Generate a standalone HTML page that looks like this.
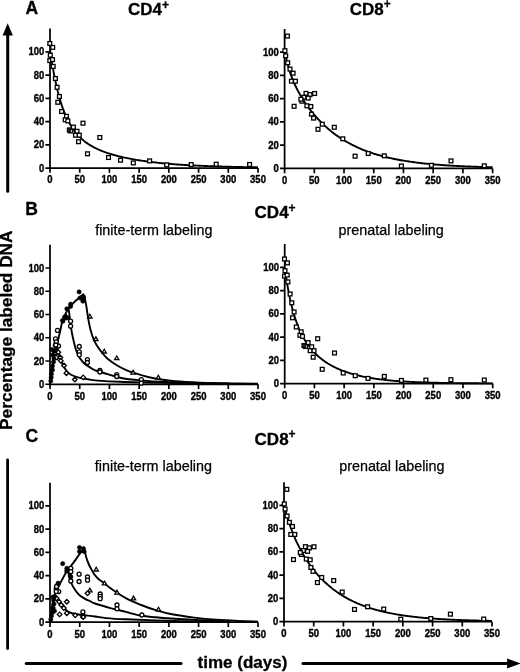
<!DOCTYPE html>
<html><head><meta charset="utf-8"><style>
html,body{margin:0;padding:0;background:#fff;}
svg{display:block;filter:blur(0.3px);}
text{font-family:"Liberation Sans", sans-serif;fill:#000;}
.tk{font-size:10px;font-weight:bold;stroke:#000;stroke-width:0.35px;}
.pl{font-size:17.5px;font-weight:bold;stroke:#000;stroke-width:0.3px;}
.tt{font-size:17px;font-weight:bold;stroke:#000;stroke-width:0.3px;}
.sup{font-size:12px;}
.lb{font-size:14.35px;stroke:#000;stroke-width:0.25px;}
.cv{fill:none;stroke:#000;stroke-width:1.9;stroke-linejoin:round;}
.mk{fill:#fff;stroke:#000;stroke-width:1.3;}
.mkf{fill:#000;stroke:#000;stroke-width:0.6;}
</style></head><body>
<svg width="520" height="672" viewBox="0 0 520 672">
<rect width="520" height="672" fill="#fff"/>
<path d="M50 28.55V168.05H258" fill="none" stroke="#000" stroke-width="1.75" stroke-linejoin="miter"/>
<path d="M45.4 168.05H50M45.4 144.8H50M45.4 121.55H50M45.4 98.3H50M45.4 75.05H50M45.4 51.8H50M50 168.05V172.85M79.72 168.05V172.85M109.43 168.05V172.85M139.15 168.05V172.85M168.86 168.05V172.85M198.58 168.05V172.85M228.29 168.05V172.85M258 168.05V172.85" stroke="#000" stroke-width="1.7" fill="none"/>
<text transform="translate(44.3 171.55) scale(0.95 1)" text-anchor="end" class="tk">0</text>
<text transform="translate(44.3 148.3) scale(0.95 1)" text-anchor="end" class="tk">20</text>
<text transform="translate(44.3 125.05) scale(0.95 1)" text-anchor="end" class="tk">40</text>
<text transform="translate(44.3 101.8) scale(0.95 1)" text-anchor="end" class="tk">60</text>
<text transform="translate(44.3 78.55) scale(0.95 1)" text-anchor="end" class="tk">80</text>
<text transform="translate(44.3 55.3) scale(0.95 1)" text-anchor="end" class="tk">100</text>
<text transform="translate(50 183.35) scale(0.95 1)" text-anchor="middle" class="tk">0</text>
<text transform="translate(79.72 183.35) scale(0.95 1)" text-anchor="middle" class="tk">50</text>
<text transform="translate(109.43 183.35) scale(0.95 1)" text-anchor="middle" class="tk">100</text>
<text transform="translate(139.15 183.35) scale(0.95 1)" text-anchor="middle" class="tk">150</text>
<text transform="translate(168.86 183.35) scale(0.95 1)" text-anchor="middle" class="tk">200</text>
<text transform="translate(198.58 183.35) scale(0.95 1)" text-anchor="middle" class="tk">250</text>
<text transform="translate(228.29 183.35) scale(0.95 1)" text-anchor="middle" class="tk">300</text>
<text transform="translate(258 183.35) scale(0.95 1)" text-anchor="middle" class="tk">350</text>
<path d="M284.6 28.9V168.4H492.61" fill="none" stroke="#000" stroke-width="1.75" stroke-linejoin="miter"/>
<path d="M280 168.4H284.6M280 145.15H284.6M280 121.9H284.6M280 98.65H284.6M280 75.4H284.6M280 52.15H284.6M284.6 168.4V173.2M314.32 168.4V173.2M344.03 168.4V173.2M373.75 168.4V173.2M403.46 168.4V173.2M433.18 168.4V173.2M462.89 168.4V173.2M492.61 168.4V173.2" stroke="#000" stroke-width="1.7" fill="none"/>
<text transform="translate(278.9 171.9) scale(0.95 1)" text-anchor="end" class="tk">0</text>
<text transform="translate(278.9 148.65) scale(0.95 1)" text-anchor="end" class="tk">20</text>
<text transform="translate(278.9 125.4) scale(0.95 1)" text-anchor="end" class="tk">40</text>
<text transform="translate(278.9 102.15) scale(0.95 1)" text-anchor="end" class="tk">60</text>
<text transform="translate(278.9 78.9) scale(0.95 1)" text-anchor="end" class="tk">80</text>
<text transform="translate(278.9 55.65) scale(0.95 1)" text-anchor="end" class="tk">100</text>
<text transform="translate(284.6 183.7) scale(0.95 1)" text-anchor="middle" class="tk">0</text>
<text transform="translate(314.32 183.7) scale(0.95 1)" text-anchor="middle" class="tk">50</text>
<text transform="translate(344.03 183.7) scale(0.95 1)" text-anchor="middle" class="tk">100</text>
<text transform="translate(373.75 183.7) scale(0.95 1)" text-anchor="middle" class="tk">150</text>
<text transform="translate(403.46 183.7) scale(0.95 1)" text-anchor="middle" class="tk">200</text>
<text transform="translate(433.18 183.7) scale(0.95 1)" text-anchor="middle" class="tk">250</text>
<text transform="translate(462.89 183.7) scale(0.95 1)" text-anchor="middle" class="tk">300</text>
<text transform="translate(492.61 183.7) scale(0.95 1)" text-anchor="middle" class="tk">350</text>
<path d="M50 244.75V384.25H258" fill="none" stroke="#000" stroke-width="1.75" stroke-linejoin="miter"/>
<path d="M45.4 384.25H50M45.4 361H50M45.4 337.75H50M45.4 314.5H50M45.4 291.25H50M45.4 268H50M50 384.25V389.05M79.72 384.25V389.05M109.43 384.25V389.05M139.15 384.25V389.05M168.86 384.25V389.05M198.58 384.25V389.05M228.29 384.25V389.05M258 384.25V389.05" stroke="#000" stroke-width="1.7" fill="none"/>
<text transform="translate(44.3 387.75) scale(0.95 1)" text-anchor="end" class="tk">0</text>
<text transform="translate(44.3 364.5) scale(0.95 1)" text-anchor="end" class="tk">20</text>
<text transform="translate(44.3 341.25) scale(0.95 1)" text-anchor="end" class="tk">40</text>
<text transform="translate(44.3 318) scale(0.95 1)" text-anchor="end" class="tk">60</text>
<text transform="translate(44.3 294.75) scale(0.95 1)" text-anchor="end" class="tk">80</text>
<text transform="translate(44.3 271.5) scale(0.95 1)" text-anchor="end" class="tk">100</text>
<text transform="translate(50 399.55) scale(0.95 1)" text-anchor="middle" class="tk">0</text>
<text transform="translate(79.72 399.55) scale(0.95 1)" text-anchor="middle" class="tk">50</text>
<text transform="translate(109.43 399.55) scale(0.95 1)" text-anchor="middle" class="tk">100</text>
<text transform="translate(139.15 399.55) scale(0.95 1)" text-anchor="middle" class="tk">150</text>
<text transform="translate(168.86 399.55) scale(0.95 1)" text-anchor="middle" class="tk">200</text>
<text transform="translate(198.58 399.55) scale(0.95 1)" text-anchor="middle" class="tk">250</text>
<text transform="translate(228.29 399.55) scale(0.95 1)" text-anchor="middle" class="tk">300</text>
<text transform="translate(258 399.55) scale(0.95 1)" text-anchor="middle" class="tk">350</text>
<path d="M284.7 244.05V383.55H492.71" fill="none" stroke="#000" stroke-width="1.75" stroke-linejoin="miter"/>
<path d="M280.1 383.55H284.7M280.1 360.3H284.7M280.1 337.05H284.7M280.1 313.8H284.7M280.1 290.55H284.7M280.1 267.3H284.7M284.7 383.55V388.35M314.41 383.55V388.35M344.13 383.55V388.35M373.85 383.55V388.35M403.56 383.55V388.35M433.27 383.55V388.35M462.99 383.55V388.35M492.71 383.55V388.35" stroke="#000" stroke-width="1.7" fill="none"/>
<text transform="translate(279 387.05) scale(0.95 1)" text-anchor="end" class="tk">0</text>
<text transform="translate(279 363.8) scale(0.95 1)" text-anchor="end" class="tk">20</text>
<text transform="translate(279 340.55) scale(0.95 1)" text-anchor="end" class="tk">40</text>
<text transform="translate(279 317.3) scale(0.95 1)" text-anchor="end" class="tk">60</text>
<text transform="translate(279 294.05) scale(0.95 1)" text-anchor="end" class="tk">80</text>
<text transform="translate(279 270.8) scale(0.95 1)" text-anchor="end" class="tk">100</text>
<text transform="translate(284.7 398.85) scale(0.95 1)" text-anchor="middle" class="tk">0</text>
<text transform="translate(314.41 398.85) scale(0.95 1)" text-anchor="middle" class="tk">50</text>
<text transform="translate(344.13 398.85) scale(0.95 1)" text-anchor="middle" class="tk">100</text>
<text transform="translate(373.85 398.85) scale(0.95 1)" text-anchor="middle" class="tk">150</text>
<text transform="translate(403.56 398.85) scale(0.95 1)" text-anchor="middle" class="tk">200</text>
<text transform="translate(433.27 398.85) scale(0.95 1)" text-anchor="middle" class="tk">250</text>
<text transform="translate(462.99 398.85) scale(0.95 1)" text-anchor="middle" class="tk">300</text>
<text transform="translate(492.71 398.85) scale(0.95 1)" text-anchor="middle" class="tk">350</text>
<path d="M50 482.7V622.2H258" fill="none" stroke="#000" stroke-width="1.75" stroke-linejoin="miter"/>
<path d="M45.4 622.2H50M45.4 598.95H50M45.4 575.7H50M45.4 552.45H50M45.4 529.2H50M45.4 505.95H50M50 622.2V627M79.72 622.2V627M109.43 622.2V627M139.15 622.2V627M168.86 622.2V627M198.58 622.2V627M228.29 622.2V627M258 622.2V627" stroke="#000" stroke-width="1.7" fill="none"/>
<text transform="translate(44.3 625.7) scale(0.95 1)" text-anchor="end" class="tk">0</text>
<text transform="translate(44.3 602.45) scale(0.95 1)" text-anchor="end" class="tk">20</text>
<text transform="translate(44.3 579.2) scale(0.95 1)" text-anchor="end" class="tk">40</text>
<text transform="translate(44.3 555.95) scale(0.95 1)" text-anchor="end" class="tk">60</text>
<text transform="translate(44.3 532.7) scale(0.95 1)" text-anchor="end" class="tk">80</text>
<text transform="translate(44.3 509.45) scale(0.95 1)" text-anchor="end" class="tk">100</text>
<text transform="translate(50 637.5) scale(0.95 1)" text-anchor="middle" class="tk">0</text>
<text transform="translate(79.72 637.5) scale(0.95 1)" text-anchor="middle" class="tk">50</text>
<text transform="translate(109.43 637.5) scale(0.95 1)" text-anchor="middle" class="tk">100</text>
<text transform="translate(139.15 637.5) scale(0.95 1)" text-anchor="middle" class="tk">150</text>
<text transform="translate(168.86 637.5) scale(0.95 1)" text-anchor="middle" class="tk">200</text>
<text transform="translate(198.58 637.5) scale(0.95 1)" text-anchor="middle" class="tk">250</text>
<text transform="translate(228.29 637.5) scale(0.95 1)" text-anchor="middle" class="tk">300</text>
<text transform="translate(258 637.5) scale(0.95 1)" text-anchor="middle" class="tk">350</text>
<path d="M284 482.15V621.65H492" fill="none" stroke="#000" stroke-width="1.75" stroke-linejoin="miter"/>
<path d="M279.4 621.65H284M279.4 598.4H284M279.4 575.15H284M279.4 551.9H284M279.4 528.65H284M279.4 505.4H284M284 621.65V626.45M313.72 621.65V626.45M343.43 621.65V626.45M373.14 621.65V626.45M402.86 621.65V626.45M432.58 621.65V626.45M462.29 621.65V626.45M492 621.65V626.45" stroke="#000" stroke-width="1.7" fill="none"/>
<text transform="translate(278.3 625.15) scale(0.95 1)" text-anchor="end" class="tk">0</text>
<text transform="translate(278.3 601.9) scale(0.95 1)" text-anchor="end" class="tk">20</text>
<text transform="translate(278.3 578.65) scale(0.95 1)" text-anchor="end" class="tk">40</text>
<text transform="translate(278.3 555.4) scale(0.95 1)" text-anchor="end" class="tk">60</text>
<text transform="translate(278.3 532.15) scale(0.95 1)" text-anchor="end" class="tk">80</text>
<text transform="translate(278.3 508.9) scale(0.95 1)" text-anchor="end" class="tk">100</text>
<text transform="translate(284 636.95) scale(0.95 1)" text-anchor="middle" class="tk">0</text>
<text transform="translate(313.72 636.95) scale(0.95 1)" text-anchor="middle" class="tk">50</text>
<text transform="translate(343.43 636.95) scale(0.95 1)" text-anchor="middle" class="tk">100</text>
<text transform="translate(373.14 636.95) scale(0.95 1)" text-anchor="middle" class="tk">150</text>
<text transform="translate(402.86 636.95) scale(0.95 1)" text-anchor="middle" class="tk">200</text>
<text transform="translate(432.58 636.95) scale(0.95 1)" text-anchor="middle" class="tk">250</text>
<text transform="translate(462.29 636.95) scale(0.95 1)" text-anchor="middle" class="tk">300</text>
<text transform="translate(492 636.95) scale(0.95 1)" text-anchor="middle" class="tk">350</text>
<path d="M50 49.48 L51.31 58.38 L52.62 66.43 L53.92 73.72 L55.23 80.33 L56.54 86.32 L57.85 91.76 L59.16 96.71 L60.47 101.22 L61.77 105.32 L63.08 109.07 L64.39 112.49 L65.7 115.63 L67.01 118.5 L68.31 121.14 L69.62 123.56 L70.93 125.8 L72.24 127.86 L73.55 129.76 L74.86 131.53 L76.16 133.16 L77.47 134.68 L78.78 136.1 L80.09 137.42 L81.4 138.65 L82.71 139.81 L84.01 140.89 L85.32 141.91 L86.63 142.86 L87.94 143.77 L89.25 144.62 L90.55 145.43 L91.86 146.19 L93.17 146.92 L94.48 147.61 L95.79 148.26 L97.1 148.89 L98.4 149.49 L99.71 150.06 L101.02 150.61 L102.33 151.13 L103.64 151.63 L104.94 152.12 L106.25 152.58 L107.56 153.03 L108.87 153.46 L110.18 153.87 L111.49 154.27 L112.79 154.66 L114.1 155.03 L115.41 155.39 L116.72 155.74 L118.03 156.08 L119.33 156.4 L120.64 156.72 L121.95 157.03 L123.26 157.32 L124.57 157.61 L125.88 157.89 L127.18 158.16 L128.49 158.43 L129.8 158.68 L131.11 158.93 L132.42 159.17 L133.73 159.41 L135.03 159.63 L136.34 159.86 L137.65 160.07 L138.96 160.28 L140.27 160.48 L141.57 160.68 L142.88 160.88 L144.19 161.06 L145.5 161.25 L146.81 161.42 L148.12 161.6 L149.42 161.76 L150.73 161.93 L152.04 162.09 L153.35 162.24 L154.66 162.39 L155.96 162.54 L157.27 162.68 L158.58 162.82 L159.89 162.96 L161.2 163.09 L162.51 163.22 L163.81 163.34 L165.12 163.47 L166.43 163.59 L167.74 163.7 L169.05 163.81 L170.36 163.92 L171.66 164.03 L172.97 164.13 L174.28 164.24 L175.59 164.33 L176.9 164.43 L178.2 164.52 L179.51 164.62 L180.82 164.7 L182.13 164.79 L183.44 164.88 L184.75 164.96 L186.05 165.04 L187.36 165.12 L188.67 165.19 L189.98 165.27 L191.29 165.34 L192.59 165.41 L193.9 165.48 L195.21 165.54 L196.52 165.61 L197.83 165.67 L199.14 165.73 L200.44 165.79 L201.75 165.85 L203.06 165.91 L204.37 165.96 L205.68 166.02 L206.98 166.07 L208.29 166.12 L209.6 166.17 L210.91 166.22 L212.22 166.27 L213.53 166.31 L214.83 166.36 L216.14 166.4 L217.45 166.44 L218.76 166.49 L220.07 166.53 L221.38 166.57 L222.68 166.6 L223.99 166.64 L225.3 166.68 L226.61 166.71 L227.92 166.75 L229.22 166.78 L230.53 166.81 L231.84 166.85 L233.15 166.88 L234.46 166.91 L235.77 166.94 L237.07 166.97 L238.38 166.99 L239.69 167.02 L241 167.05 L242.31 167.07 L243.61 167.1 L244.92 167.12 L246.23 167.15 L247.54 167.17 L248.85 167.19 L250.16 167.22 L251.46 167.24 L252.77 167.26 L254.08 167.28 L255.39 167.3 L256.7 167.32 L258 167.34" class="cv"/>
<g class="mk"><rect x="47.9" y="41.6" width="3.8" height="3.8"/><rect x="50.8" y="45.5" width="3.8" height="3.8"/><rect x="48.4" y="53.3" width="3.8" height="3.8"/><rect x="47.9" y="58.7" width="3.8" height="3.8"/><rect x="50.6" y="57.7" width="3.8" height="3.8"/><rect x="51.3" y="64.5" width="3.8" height="3.8"/><rect x="53.5" y="76.6" width="3.8" height="3.8"/><rect x="55.2" y="85.4" width="3.8" height="3.8"/><rect x="57.5" y="94.6" width="3.8" height="3.8"/><rect x="55.9" y="100.4" width="3.8" height="3.8"/><rect x="59.7" y="109.6" width="3.8" height="3.8"/><rect x="64.6" y="114.4" width="3.8" height="3.8"/><rect x="63.3" y="117.9" width="3.8" height="3.8"/><rect x="65.9" y="119" width="3.8" height="3.8"/><rect x="67.8" y="128.3" width="3.8" height="3.8"/><rect x="68.9" y="129.1" width="3.8" height="3.8"/><rect x="71.5" y="125.2" width="3.8" height="3.8"/><rect x="75.1" y="129.4" width="3.8" height="3.8"/><rect x="73.6" y="133.3" width="3.8" height="3.8"/><rect x="77.4" y="133.3" width="3.8" height="3.8"/><rect x="81.1" y="121.3" width="3.8" height="3.8"/><rect x="76.6" y="139.8" width="3.8" height="3.8"/><rect x="85.6" y="151.9" width="3.8" height="3.8"/><rect x="97.9" y="135.6" width="3.8" height="3.8"/><rect x="106.6" y="155.6" width="3.8" height="3.8"/><rect x="118.6" y="158.3" width="3.8" height="3.8"/><rect x="131.4" y="161" width="3.8" height="3.8"/><rect x="147.7" y="159" width="3.8" height="3.8"/><rect x="164.8" y="163" width="3.8" height="3.8"/><rect x="189.3" y="162.7" width="3.8" height="3.8"/><rect x="214.3" y="162.3" width="3.8" height="3.8"/><rect x="247.7" y="162.6" width="3.8" height="3.8"/></g>
<rect x="67.2" y="127.9" width="3.6" height="4.2" fill="#222" stroke="#000" stroke-width="0.8"/>
<path d="M284.7 267.3 L286.01 276.5 L287.32 284.66 L288.62 291.91 L289.93 298.39 L291.24 304.18 L292.55 309.38 L293.86 314.07 L295.17 318.31 L296.47 322.15 L297.78 325.66 L299.09 328.86 L300.4 331.79 L301.71 334.49 L303.01 336.98 L304.32 339.29 L305.63 341.43 L306.94 343.43 L308.25 345.29 L309.56 347.03 L310.86 348.67 L312.17 350.21 L313.48 351.65 L314.79 353.02 L316.1 354.32 L317.41 355.54 L318.71 356.71 L320.02 357.81 L321.33 358.87 L322.64 359.87 L323.95 360.82 L325.25 361.73 L326.56 362.6 L327.87 363.44 L329.18 364.23 L330.49 364.99 L331.8 365.72 L333.1 366.42 L334.41 367.09 L335.72 367.73 L337.03 368.34 L338.34 368.93 L339.64 369.5 L340.95 370.04 L342.26 370.56 L343.57 371.07 L344.88 371.55 L346.19 372.01 L347.49 372.45 L348.8 372.88 L350.11 373.29 L351.42 373.68 L352.73 374.06 L354.03 374.43 L355.34 374.78 L356.65 375.11 L357.96 375.43 L359.27 375.75 L360.58 376.04 L361.88 376.33 L363.19 376.61 L364.5 376.87 L365.81 377.13 L367.12 377.37 L368.43 377.61 L369.73 377.84 L371.04 378.06 L372.35 378.27 L373.66 378.47 L374.97 378.66 L376.27 378.85 L377.58 379.03 L378.89 379.2 L380.2 379.37 L381.51 379.53 L382.82 379.68 L384.12 379.83 L385.43 379.97 L386.74 380.11 L388.05 380.24 L389.36 380.37 L390.66 380.49 L391.97 380.61 L393.28 380.72 L394.59 380.83 L395.9 380.93 L397.21 381.03 L398.51 381.13 L399.82 381.22 L401.13 381.31 L402.44 381.39 L403.75 381.48 L405.06 381.56 L406.36 381.63 L407.67 381.71 L408.98 381.78 L410.29 381.84 L411.6 381.91 L412.9 381.97 L414.21 382.03 L415.52 382.09 L416.83 382.15 L418.14 382.2 L419.45 382.25 L420.75 382.3 L422.06 382.35 L423.37 382.39 L424.68 382.44 L425.99 382.48 L427.29 382.52 L428.6 382.56 L429.91 382.6 L431.22 382.64 L432.53 382.67 L433.84 382.7 L435.14 382.74 L436.45 382.77 L437.76 382.8 L439.07 382.83 L440.38 382.85 L441.68 382.88 L442.99 382.91 L444.3 382.93 L445.61 382.95 L446.92 382.98 L448.23 383 L449.53 383.02 L450.84 383.04 L452.15 383.06 L453.46 383.08 L454.77 383.1 L456.08 383.11 L457.38 383.13 L458.69 383.15 L460 383.16 L461.31 383.18 L462.62 383.19 L463.92 383.2 L465.23 383.22 L466.54 383.23 L467.85 383.24 L469.16 383.25 L470.47 383.27 L471.77 383.28 L473.08 383.29 L474.39 383.3 L475.7 383.31 L477.01 383.32 L478.31 383.32 L479.62 383.33 L480.93 383.34 L482.24 383.35 L483.55 383.36 L484.86 383.36 L486.16 383.37 L487.47 383.38 L488.78 383.39 L490.09 383.39 L491.4 383.4 L492.71 383.4" class="cv"/>
<g class="mk"><rect x="282.6" y="257.1" width="3.8" height="3.8"/><rect x="285.5" y="261" width="3.8" height="3.8"/><rect x="283.1" y="268.8" width="3.8" height="3.8"/><rect x="282.6" y="274.2" width="3.8" height="3.8"/><rect x="285.3" y="273.2" width="3.8" height="3.8"/><rect x="286" y="280" width="3.8" height="3.8"/><rect x="288.2" y="292.1" width="3.8" height="3.8"/><rect x="289.9" y="300.9" width="3.8" height="3.8"/><rect x="292.2" y="310.1" width="3.8" height="3.8"/><rect x="290.6" y="315.9" width="3.8" height="3.8"/><rect x="294.4" y="325.1" width="3.8" height="3.8"/><rect x="299.3" y="329.9" width="3.8" height="3.8"/><rect x="298" y="333.4" width="3.8" height="3.8"/><rect x="300.6" y="334.5" width="3.8" height="3.8"/><rect x="302.5" y="343.8" width="3.8" height="3.8"/><rect x="303.6" y="344.6" width="3.8" height="3.8"/><rect x="306.2" y="340.7" width="3.8" height="3.8"/><rect x="309.8" y="344.9" width="3.8" height="3.8"/><rect x="308.3" y="348.8" width="3.8" height="3.8"/><rect x="312.1" y="348.8" width="3.8" height="3.8"/><rect x="315.8" y="336.8" width="3.8" height="3.8"/><rect x="311.3" y="355.3" width="3.8" height="3.8"/><rect x="320.3" y="367.4" width="3.8" height="3.8"/><rect x="332.6" y="351.1" width="3.8" height="3.8"/><rect x="341.3" y="371.1" width="3.8" height="3.8"/><rect x="353.3" y="373.8" width="3.8" height="3.8"/><rect x="366.1" y="376.5" width="3.8" height="3.8"/><rect x="382.4" y="374.5" width="3.8" height="3.8"/><rect x="399.5" y="378.5" width="3.8" height="3.8"/><rect x="424" y="378.2" width="3.8" height="3.8"/><rect x="449" y="377.8" width="3.8" height="3.8"/><rect x="482.4" y="378.1" width="3.8" height="3.8"/></g>
<rect x="301.9" y="343.4" width="3.6" height="4.2" fill="#222" stroke="#000" stroke-width="0.8"/>
<path d="M284.6 50.99 L285.91 57.2 L287.22 62.61 L288.52 67.37 L289.83 71.61 L291.14 75.43 L292.45 78.9 L293.76 82.08 L295.07 85.03 L296.37 87.78 L297.68 90.37 L298.99 92.8 L300.3 95.12 L301.61 97.33 L302.91 99.44 L304.22 101.46 L305.53 103.41 L306.84 105.28 L308.15 107.09 L309.46 108.84 L310.76 110.53 L312.07 112.17 L313.38 113.76 L314.69 115.3 L316 116.79 L317.31 118.24 L318.61 119.65 L319.92 121.01 L321.23 122.34 L322.54 123.63 L323.85 124.88 L325.15 126.1 L326.46 127.28 L327.77 128.43 L329.08 129.54 L330.39 130.63 L331.7 131.68 L333 132.71 L334.31 133.71 L335.62 134.68 L336.93 135.62 L338.24 136.53 L339.54 137.42 L340.85 138.29 L342.16 139.13 L343.47 139.94 L344.78 140.74 L346.09 141.51 L347.39 142.26 L348.7 142.99 L350.01 143.7 L351.32 144.39 L352.63 145.06 L353.94 145.71 L355.24 146.34 L356.55 146.96 L357.86 147.56 L359.17 148.14 L360.48 148.71 L361.78 149.26 L363.09 149.79 L364.4 150.31 L365.71 150.81 L367.02 151.3 L368.33 151.78 L369.63 152.25 L370.94 152.7 L372.25 153.13 L373.56 153.56 L374.87 153.98 L376.17 154.38 L377.48 154.77 L378.79 155.15 L380.1 155.52 L381.41 155.88 L382.72 156.23 L384.02 156.57 L385.33 156.9 L386.64 157.22 L387.95 157.53 L389.26 157.83 L390.56 158.13 L391.87 158.42 L393.18 158.7 L394.49 158.97 L395.8 159.23 L397.11 159.49 L398.41 159.73 L399.72 159.98 L401.03 160.21 L402.34 160.44 L403.65 160.66 L404.96 160.88 L406.26 161.09 L407.57 161.29 L408.88 161.49 L410.19 161.68 L411.5 161.87 L412.8 162.05 L414.11 162.23 L415.42 162.4 L416.73 162.57 L418.04 162.73 L419.35 162.89 L420.65 163.04 L421.96 163.19 L423.27 163.34 L424.58 163.48 L425.89 163.62 L427.19 163.75 L428.5 163.88 L429.81 164.01 L431.12 164.13 L432.43 164.25 L433.74 164.36 L435.04 164.48 L436.35 164.59 L437.66 164.69 L438.97 164.8 L440.28 164.9 L441.58 165 L442.89 165.09 L444.2 165.18 L445.51 165.27 L446.82 165.36 L448.13 165.44 L449.43 165.53 L450.74 165.61 L452.05 165.69 L453.36 165.76 L454.67 165.83 L455.98 165.91 L457.28 165.98 L458.59 166.04 L459.9 166.11 L461.21 166.17 L462.52 166.24 L463.82 166.3 L465.13 166.35 L466.44 166.41 L467.75 166.47 L469.06 166.52 L470.37 166.57 L471.67 166.62 L472.98 166.67 L474.29 166.72 L475.6 166.77 L476.91 166.81 L478.21 166.86 L479.52 166.9 L480.83 166.94 L482.14 166.98 L483.45 167.02 L484.76 167.06 L486.06 167.1 L487.37 167.14 L488.68 167.17 L489.99 167.21 L491.3 167.24 L492.61 167.27" class="cv"/>
<g class="mk"><rect x="285.5" y="34.2" width="3.8" height="3.8"/><rect x="283" y="48.8" width="3.8" height="3.8"/><rect x="283.8" y="53.9" width="3.8" height="3.8"/><rect x="285.8" y="60.9" width="3.8" height="3.8"/><rect x="288.1" y="67.2" width="3.8" height="3.8"/><rect x="291.2" y="71.3" width="3.8" height="3.8"/><rect x="289.5" y="79.3" width="3.8" height="3.8"/><rect x="293.5" y="79.3" width="3.8" height="3.8"/><rect x="304.1" y="91.5" width="3.8" height="3.8"/><rect x="308.1" y="92.7" width="3.8" height="3.8"/><rect x="312.7" y="91.6" width="3.8" height="3.8"/><rect x="302" y="95.4" width="3.8" height="3.8"/><rect x="306.3" y="96.2" width="3.8" height="3.8"/><rect x="300" y="99.3" width="3.8" height="3.8"/><rect x="299" y="97.4" width="3.8" height="3.8"/><rect x="292.2" y="104.4" width="3.8" height="3.8"/><rect x="305" y="103.9" width="3.8" height="3.8"/><rect x="308.9" y="104.6" width="3.8" height="3.8"/><rect x="309.6" y="112.3" width="3.8" height="3.8"/><rect x="311.7" y="116.2" width="3.8" height="3.8"/><rect x="320.4" y="122.3" width="3.8" height="3.8"/><rect x="316.1" y="127.4" width="3.8" height="3.8"/><rect x="332.4" y="125.4" width="3.8" height="3.8"/><rect x="340.9" y="136.9" width="3.8" height="3.8"/><rect x="353.2" y="154.3" width="3.8" height="3.8"/><rect x="366.3" y="151.6" width="3.8" height="3.8"/><rect x="382.4" y="153.9" width="3.8" height="3.8"/><rect x="399.5" y="164.1" width="3.8" height="3.8"/><rect x="429.5" y="163.4" width="3.8" height="3.8"/><rect x="449.1" y="159" width="3.8" height="3.8"/><rect x="482.4" y="163.9" width="3.8" height="3.8"/></g>
<path d="M284 505.4 L285.31 510.33 L286.62 514.92 L287.92 519.2 L289.23 523.21 L290.54 526.98 L291.85 530.52 L293.16 533.87 L294.47 537.03 L295.77 540.03 L297.08 542.88 L298.39 545.59 L299.7 548.18 L301.01 550.65 L302.31 553.01 L303.62 555.27 L304.93 557.44 L306.24 559.52 L307.55 561.52 L308.86 563.44 L310.16 565.3 L311.47 567.08 L312.78 568.8 L314.09 570.46 L315.4 572.06 L316.71 573.6 L318.01 575.1 L319.32 576.54 L320.63 577.93 L321.94 579.28 L323.25 580.59 L324.55 581.85 L325.86 583.07 L327.17 584.25 L328.48 585.4 L329.79 586.51 L331.1 587.58 L332.4 588.62 L333.71 589.63 L335.02 590.61 L336.33 591.55 L337.64 592.47 L338.94 593.36 L340.25 594.22 L341.56 595.05 L342.87 595.86 L344.18 596.65 L345.49 597.41 L346.79 598.14 L348.1 598.86 L349.41 599.55 L350.72 600.22 L352.03 600.87 L353.33 601.5 L354.64 602.11 L355.95 602.71 L357.26 603.28 L358.57 603.84 L359.88 604.38 L361.18 604.9 L362.49 605.41 L363.8 605.9 L365.11 606.38 L366.42 606.84 L367.73 607.29 L369.03 607.73 L370.34 608.15 L371.65 608.56 L372.96 608.96 L374.27 609.34 L375.57 609.72 L376.88 610.08 L378.19 610.43 L379.5 610.77 L380.81 611.1 L382.12 611.42 L383.42 611.73 L384.73 612.03 L386.04 612.32 L387.35 612.61 L388.66 612.88 L389.96 613.15 L391.27 613.4 L392.58 613.65 L393.89 613.9 L395.2 614.13 L396.51 614.36 L397.81 614.58 L399.12 614.79 L400.43 615 L401.74 615.2 L403.05 615.4 L404.36 615.59 L405.66 615.77 L406.97 615.95 L408.28 616.12 L409.59 616.29 L410.9 616.45 L412.2 616.61 L413.51 616.76 L414.82 616.91 L416.13 617.06 L417.44 617.2 L418.75 617.33 L420.05 617.46 L421.36 617.59 L422.67 617.71 L423.98 617.83 L425.29 617.95 L426.59 618.06 L427.9 618.17 L429.21 618.27 L430.52 618.38 L431.83 618.48 L433.14 618.57 L434.44 618.67 L435.75 618.76 L437.06 618.84 L438.37 618.93 L439.68 619.01 L440.98 619.09 L442.29 619.17 L443.6 619.24 L444.91 619.32 L446.22 619.39 L447.53 619.46 L448.83 619.52 L450.14 619.59 L451.45 619.65 L452.76 619.71 L454.07 619.77 L455.38 619.83 L456.68 619.88 L457.99 619.94 L459.3 619.99 L460.61 620.04 L461.92 620.09 L463.22 620.13 L464.53 620.18 L465.84 620.22 L467.15 620.27 L468.46 620.31 L469.77 620.35 L471.07 620.39 L472.38 620.43 L473.69 620.47 L475 620.5 L476.31 620.54 L477.61 620.57 L478.92 620.6 L480.23 620.63 L481.54 620.66 L482.85 620.69 L484.16 620.72 L485.46 620.75 L486.77 620.78 L488.08 620.81 L489.39 620.83 L490.7 620.86 L492 620.88" class="cv"/>
<g class="mk"><rect x="284.9" y="487.45" width="3.8" height="3.8"/><rect x="282.4" y="502.05" width="3.8" height="3.8"/><rect x="283.2" y="507.15" width="3.8" height="3.8"/><rect x="285.2" y="514.15" width="3.8" height="3.8"/><rect x="287.5" y="520.45" width="3.8" height="3.8"/><rect x="290.6" y="524.55" width="3.8" height="3.8"/><rect x="288.9" y="532.55" width="3.8" height="3.8"/><rect x="292.9" y="532.55" width="3.8" height="3.8"/><rect x="303.5" y="544.75" width="3.8" height="3.8"/><rect x="307.5" y="545.95" width="3.8" height="3.8"/><rect x="312.1" y="544.85" width="3.8" height="3.8"/><rect x="301.4" y="548.65" width="3.8" height="3.8"/><rect x="305.7" y="549.45" width="3.8" height="3.8"/><rect x="299.4" y="552.55" width="3.8" height="3.8"/><rect x="298.4" y="550.65" width="3.8" height="3.8"/><rect x="291.6" y="557.65" width="3.8" height="3.8"/><rect x="304.4" y="557.15" width="3.8" height="3.8"/><rect x="308.3" y="557.85" width="3.8" height="3.8"/><rect x="309" y="565.55" width="3.8" height="3.8"/><rect x="311.1" y="569.45" width="3.8" height="3.8"/><rect x="319.8" y="575.55" width="3.8" height="3.8"/><rect x="315.5" y="580.65" width="3.8" height="3.8"/><rect x="331.8" y="578.65" width="3.8" height="3.8"/><rect x="340.3" y="590.15" width="3.8" height="3.8"/><rect x="352.6" y="607.55" width="3.8" height="3.8"/><rect x="365.7" y="604.85" width="3.8" height="3.8"/><rect x="381.8" y="607.15" width="3.8" height="3.8"/><rect x="398.9" y="617.35" width="3.8" height="3.8"/><rect x="428.9" y="616.65" width="3.8" height="3.8"/><rect x="448.5" y="612.25" width="3.8" height="3.8"/><rect x="481.8" y="617.15" width="3.8" height="3.8"/></g>
<path d="M49.9 383.8C50.17 382.17 50.95 377.47 51.5 374C52.05 370.53 52.62 366.5 53.2 363C53.78 359.5 54.28 356.5 55 353C55.72 349.5 56.67 345.5 57.5 342C58.33 338.5 59.25 335.25 60 332C60.75 328.75 61.25 325.17 62 322.5C62.75 319.83 63.6 318.03 64.5 316C65.4 313.97 66.28 312.1 67.4 310.3C68.52 308.5 69.67 306.92 71.2 305.2C72.73 303.48 74.6 301.83 76.6 300C78.6 298.17 82.1 295.17 83.2 294.2C83.47 294.92 84.28 296.55 84.8 298.5C85.32 300.45 85.75 302.68 86.3 305.9C86.85 309.12 87.4 313.83 88.1 317.8C88.8 321.77 89.5 325.93 90.5 329.7C91.5 333.47 92.85 337.48 94.1 340.4C95.35 343.32 96.55 345.02 98 347.2C99.45 349.38 101.2 351.57 102.8 353.5C104.4 355.43 105.2 356.75 107.6 358.75C110 360.75 114 363.57 117.2 365.5C120.4 367.43 123.58 368.93 126.8 370.3C130.02 371.67 132.97 372.58 136.5 373.7C140.03 374.82 144.08 376.07 148 377C151.92 377.93 155.5 378.6 160 379.3C164.5 380 168.33 380.65 175 381.2C181.67 381.75 190.83 382.23 200 382.6C209.17 382.97 220.33 383.2 230 383.4C239.67 383.6 253.33 383.73 258 383.8" class="cv" stroke-linejoin="miter" stroke-miterlimit="10"/>
<path d="M68.6 309C68.77 310.17 69.23 313.05 69.6 316C69.97 318.95 70.12 322.5 70.8 326.7C71.48 330.9 72.58 336.68 73.7 341.2C74.82 345.72 75.9 350.25 77.5 353.8C79.1 357.35 80.72 359.92 83.3 362.5C85.88 365.08 90.55 367.84 93 369.3C95.45 370.76 95.57 370.45 98 371.25C100.43 372.05 104.4 373.14 107.6 374.1C110.8 375.06 114 376.18 117.2 377C120.4 377.82 122.78 378.43 126.8 379C130.82 379.57 135.77 379.93 141.3 380.4C146.83 380.87 151.88 381.37 160 381.8C168.12 382.23 178.33 382.7 190 383C201.67 383.3 223.33 383.5 230 383.6" class="cv"/>
<path d="M54.8 352.5C55.08 352.4 55.88 351.73 56.5 351.9C57.12 352.07 57.83 352.4 58.5 353.5C59.17 354.6 59.73 356.55 60.5 358.5C61.27 360.45 62.1 363.15 63.1 365.2C64.1 367.25 65.1 369.17 66.5 370.8C67.9 372.43 69.12 373.78 71.5 375C73.88 376.22 77.72 377.33 80.8 378.1C83.88 378.87 87.13 379.18 90 379.6C92.87 380.02 93 380.23 98 380.6C103 380.97 111.67 381.48 120 381.8C128.33 382.12 136.33 382.25 148 382.5C159.67 382.75 176.33 383.1 190 383.3C203.67 383.5 223.33 383.63 230 383.7" class="cv"/>
<g class="mk"><circle cx="70.6" cy="321.2" r="2"/><circle cx="70.6" cy="326.2" r="2"/><circle cx="66.8" cy="317.6" r="2"/><circle cx="57.5" cy="330.4" r="2"/><circle cx="55.5" cy="338.8" r="2"/><circle cx="56.2" cy="341.9" r="2"/><circle cx="55.4" cy="345.3" r="2"/><circle cx="58.5" cy="346" r="2"/><circle cx="55.8" cy="345" r="2"/><circle cx="54.6" cy="352.3" r="2"/><circle cx="56.2" cy="357.7" r="2"/><circle cx="55.1" cy="352.8" r="2"/><circle cx="79.3" cy="346.5" r="2"/><circle cx="79.3" cy="351.8" r="2"/><circle cx="79.3" cy="354.8" r="2"/><circle cx="87.4" cy="359.6" r="2"/><circle cx="87.4" cy="362.5" r="2"/><circle cx="99.9" cy="370.5" r="2"/><circle cx="99.9" cy="372" r="2"/><circle cx="116.75" cy="374.6" r="2"/><circle cx="116.75" cy="376.5" r="2"/><circle cx="141.3" cy="379.6" r="2"/><circle cx="141.3" cy="383.2" r="2"/><path d="M89.9 314.28L92.05 318.02H87.75Z"/><path d="M95.9 336.88L98.05 340.62H93.75Z"/><path d="M104.2 349.28L106.35 353.02H102.05Z"/><path d="M116.75 355.98L118.9 359.72H114.6Z"/><path d="M133.1 370.38L135.25 374.12H130.95Z"/><path d="M158.3 375.28L160.45 379.02H156.15Z"/><path d="M58.3 349.9L60.6 352.2L58.3 354.5L56 352.2Z"/><path d="M60.4 355.2L62.7 357.5L60.4 359.8L58.1 357.5Z"/><path d="M60.8 358.5L63.1 360.8L60.8 363.1L58.5 360.8Z"/><path d="M64 363.2L66.3 365.5L64 367.8L61.7 365.5Z"/><path d="M66.4 370.9L68.7 373.2L66.4 375.5L64.1 373.2Z"/><path d="M74.8 377.2L77.1 379.5L74.8 381.8L72.5 379.5Z"/><path d="M83.2 375.1L85.5 377.4L83.2 379.7L80.9 377.4Z"/></g>
<g class="mkf"><circle cx="79.1" cy="291.9" r="2.1"/><circle cx="82.2" cy="298.8" r="2.1"/><circle cx="82.9" cy="301.2" r="2.1"/><circle cx="80" cy="298" r="2.1"/><circle cx="83.5" cy="297" r="2.1"/><circle cx="70.6" cy="304.2" r="2.1"/><circle cx="70.6" cy="306.5" r="2.1"/><circle cx="66.8" cy="308.8" r="2.1"/><circle cx="62.5" cy="320.5" r="2.1"/><circle cx="64.5" cy="317" r="2.1"/><circle cx="66" cy="318" r="2.1"/><circle cx="62.9" cy="321.2" r="2.1"/><circle cx="50.8" cy="381" r="2.1"/><circle cx="51.2" cy="377.5" r="2.1"/><circle cx="51.5" cy="374" r="2.1"/><circle cx="52.5" cy="370" r="2.1"/><circle cx="52.5" cy="366" r="2.1"/><circle cx="53.5" cy="362" r="2.1"/><circle cx="54" cy="358.5" r="2.1"/><circle cx="52.5" cy="355" r="2.1"/><circle cx="54.5" cy="351.5" r="2.1"/><circle cx="52" cy="349.5" r="2.1"/><circle cx="56" cy="349.5" r="2.1"/><path d="M83.2 294.02L85.5 298.02H80.9Z"/><path d="M66.2 314.02L68.5 318.02H63.9Z"/></g>
<path d="M50.2 621.9C50.37 620.42 50.85 615.82 51.2 613C51.55 610.18 51.9 607.5 52.3 605C52.7 602.5 53.07 600 53.6 598C54.13 596 54.8 594.63 55.5 593C56.2 591.37 56.67 590.48 57.8 588.2C58.93 585.92 60.81 582.07 62.3 579.3C63.79 576.53 65.27 573.88 66.75 571.6C68.23 569.32 69.71 567.6 71.2 565.6C72.69 563.6 74.36 561.48 75.7 559.6C77.04 557.72 77.88 556.08 79.25 554.3C80.62 552.52 83.12 549.8 83.9 548.9C84.12 549.58 84.78 551.5 85.2 553C85.62 554.5 85.75 555.9 86.4 557.9C87.05 559.9 88.17 562.92 89.1 565C90.03 567.08 91.1 568.8 92 570.4C92.9 572 93.33 573.08 94.5 574.6C95.67 576.12 97.47 578.15 99 579.5C100.53 580.85 101.8 581.27 103.7 582.7C105.6 584.13 106.72 585.53 110.4 588.1C114.08 590.67 120.67 595.28 125.8 598.1C130.93 600.92 136.08 602.95 141.2 605C146.32 607.05 151.37 608.85 156.5 610.4C161.63 611.95 165.72 613.1 172 614.3C178.28 615.5 186.8 616.68 194.2 617.6C201.6 618.52 209.02 619.23 216.4 619.8C223.78 620.37 231.57 620.7 238.5 621C245.43 621.3 254.75 621.5 258 621.6" class="cv" stroke-linejoin="miter" stroke-miterlimit="10"/>
<path d="M68 569.5C68.17 570.58 68.47 573.77 69 576C69.53 578.23 70.23 580.65 71.2 582.9C72.17 585.15 73.46 587.48 74.8 589.5C76.14 591.52 77.47 593.38 79.25 595C81.03 596.62 83.74 598.2 85.5 599.2C87.26 600.2 88.22 600.28 89.8 601C91.38 601.72 91.57 602.32 95 603.5C98.43 604.68 105.27 606.7 110.4 608.1C115.53 609.5 120.67 610.62 125.8 611.9C130.93 613.18 136.08 614.9 141.2 615.8C146.32 616.7 150.87 616.8 156.5 617.3C162.13 617.8 167.75 618.32 175 618.8C182.25 619.28 190.83 619.8 200 620.2C209.17 620.6 225 621.03 230 621.2" class="cv"/>
<path d="M53.6 597.8C53.92 597.7 54.85 597.1 55.5 597.2C56.15 597.3 56.58 597.35 57.5 598.4C58.42 599.45 59.45 601.43 61 603.5C62.55 605.57 64.8 609.13 66.8 610.8C68.8 612.47 70.7 612.83 73 613.5C75.3 614.17 76.93 614.3 80.6 614.8C84.27 615.3 90.77 615.95 95 616.5C99.23 617.05 100.87 617.63 106 618.1C111.13 618.57 114.3 618.82 125.8 619.3C137.3 619.78 159.3 620.6 175 621C190.7 621.4 212.5 621.58 220 621.7" class="cv"/>
<g class="mk"><circle cx="70.8" cy="568.3" r="2"/><circle cx="70.8" cy="571.7" r="2"/><circle cx="70.8" cy="581" r="2"/><circle cx="79.1" cy="574.2" r="2"/><circle cx="79.1" cy="581.5" r="2"/><circle cx="87.5" cy="577" r="2"/><circle cx="87.5" cy="580.2" r="2"/><circle cx="56.2" cy="589" r="2"/><circle cx="58.7" cy="591.6" r="2"/><circle cx="56.2" cy="591.6" r="2"/><circle cx="100.2" cy="594" r="2"/><circle cx="100.2" cy="596.3" r="2"/><circle cx="100.2" cy="598.7" r="2"/><circle cx="117" cy="605" r="2"/><circle cx="117" cy="608.8" r="2"/><circle cx="141.9" cy="615" r="2"/><circle cx="82.9" cy="611.9" r="2"/><circle cx="82.9" cy="616.5" r="2"/><circle cx="56.5" cy="586.5" r="2"/><path d="M96.2 567.28L98.35 571.02H94.05Z"/><path d="M104.5 581.18L106.65 584.92H102.35Z"/><path d="M117 590.38L119.15 594.12H114.85Z"/><path d="M133.5 596.08L135.65 599.82H131.35Z"/><path d="M158.5 607.28L160.65 611.02H156.35Z"/><path d="M89.8 588.18L91.95 591.92H87.65Z"/><path d="M56.6 596L58.9 598.3L56.6 600.6L54.3 598.3Z"/><path d="M59.1 599.4L61.4 601.7L59.1 604L56.8 601.7Z"/><path d="M61.3 602.8L63.6 605.1L61.3 607.4L59 605.1Z"/><path d="M63.8 605.8L66.1 608.1L63.8 610.4L61.5 608.1Z"/><path d="M66.8 610.9L69.1 613.2L66.8 615.5L64.5 613.2Z"/><path d="M66.8 599.4L69.1 601.7L66.8 604L64.5 601.7Z"/><path d="M59.6 612.1L61.9 614.4L59.6 616.7L57.3 614.4Z"/><path d="M75.2 613L77.5 615.3L75.2 617.6L72.9 615.3Z"/><path d="M83.3 614.7L85.6 617L83.3 619.3L81 617Z"/><path d="M87.5 591L89.8 593.3L87.5 595.6L85.2 593.3Z"/></g>
<g class="mkf"><circle cx="79.5" cy="547.5" r="2.1"/><circle cx="83.5" cy="548.7" r="2.1"/><circle cx="84.1" cy="551.5" r="2.1"/><circle cx="79.5" cy="551.5" r="2.1"/><circle cx="62.7" cy="563.7" r="2.1"/><circle cx="66.8" cy="568.3" r="2.1"/><circle cx="66.8" cy="570.6" r="2.1"/><circle cx="70.8" cy="576.9" r="2.1"/><circle cx="58.1" cy="583.3" r="2.1"/><circle cx="70.2" cy="576.2" r="2.1"/><circle cx="50.8" cy="619.5" r="2.1"/><circle cx="51.5" cy="616" r="2.1"/><circle cx="52.5" cy="612.5" r="2.1"/><circle cx="54.5" cy="611" r="2.1"/><circle cx="53.2" cy="608" r="2.1"/><circle cx="54" cy="604" r="2.1"/><circle cx="53.5" cy="600" r="2.1"/><circle cx="53" cy="597" r="2.1"/><circle cx="54.5" cy="596.5" r="2.1"/><circle cx="58.3" cy="583.5" r="2.1"/><path d="M83.8 548.52L86.1 552.52H81.5Z"/><path d="M66.8 568.52L69.1 572.52H64.5Z"/></g>
<path d="M7.7 34V191.2" stroke="#000" stroke-width="3" stroke-linecap="round"/>
<path d="M7.7 23.3L12.9 35.6H2.6Z" fill="#000"/>
<path d="M7.6 459.8V648.5" stroke="#000" stroke-width="2.8" stroke-linecap="round"/>
<path d="M26.2 663.4H181" stroke="#000" stroke-width="3" stroke-linecap="round"/>
<path d="M303 663.4H509" stroke="#000" stroke-width="3" stroke-linecap="round"/>
<path d="M507.1 658.4L520.6 663.45L507.1 668.6Z" fill="#000"/>
<text x="25.6" y="13.8" class="pl">A</text>
<text x="25.2" y="215" class="pl">B</text>
<text x="25.4" y="442.3" class="pl">C</text>
<text x="127.9" y="14.6" class="tt">CD4<tspan class="sup" dy="-5.4">+</tspan></text>
<text x="349.8" y="14.7" class="tt">CD8<tspan class="sup" dy="-7">+</tspan></text>
<text x="254.6" y="217.6" class="tt">CD4<tspan class="sup" dy="-5.4">+</tspan></text>
<text x="254.6" y="445" class="tt">CD8<tspan class="sup" dy="-7">+</tspan></text>
<text x="95.2" y="234.5" class="lb">finite-term labeling</text>
<text x="338.5" y="234.8" class="lb">prenatal labeling</text>
<text x="94.8" y="471.4" class="lb">finite-term labeling</text>
<text x="339.2" y="470.9" class="lb">prenatal labeling</text>
<text x="197.6" y="667.8" class="tt">time (days)</text>
<text transform="translate(12.3 429.9) rotate(-90)" class="tt" style="font-size:17.25px">Percentage labeled DNA</text>
</svg>
</body></html>
